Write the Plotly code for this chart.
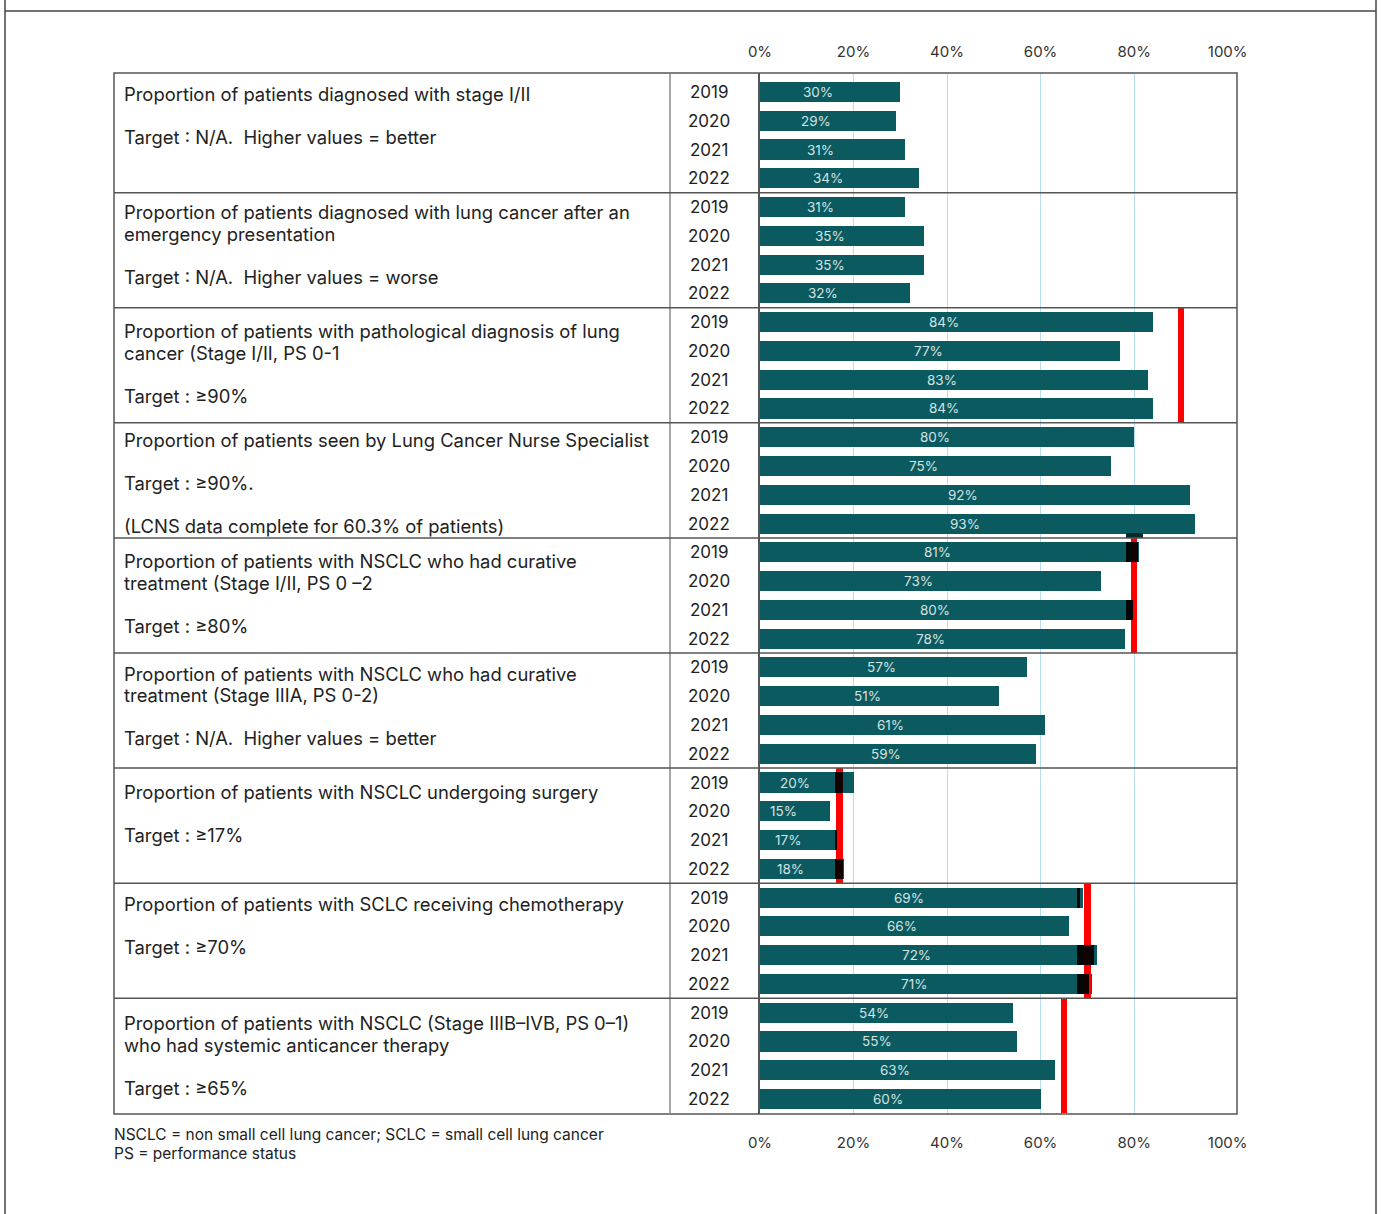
import plotly.graph_objects as go

# ---------------- data ----------------
years = ["2019", "2020", "2021", "2022"]

indicator_lines = [
    ["Proportion of patients diagnosed with stage I/II", "", "Target : N/A.  Higher values = better"],
    ["Proportion of patients diagnosed with lung cancer after an", "emergency presentation", "",
     "Target : N/A.  Higher values = worse"],
    ["Proportion of patients with pathological diagnosis of lung", "cancer (Stage I/II, PS 0-1", "",
     "Target : \u226590%"],
    ["Proportion of patients seen by Lung Cancer Nurse Specialist", "", "Target : \u226590%.", "",
     "(LCNS data complete for 60.3% of patients)"],
    ["Proportion of patients with NSCLC who had curative", "treatment (Stage I/II, PS 0 \u20132", "",
     "Target : \u226580%"],
    ["Proportion of patients with NSCLC who had curative", "treatment (Stage IIIA, PS 0-2)", "",
     "Target : N/A.  Higher values = better"],
    ["Proportion of patients with NSCLC undergoing surgery", "", "Target : \u226517%"],
    ["Proportion of patients with SCLC receiving chemotherapy", "", "Target : \u226570%"],
    ["Proportion of patients with NSCLC (Stage IIIB\u2013IVB, PS 0\u20131)", "who had systemic anticancer therapy", "",
     "Target : \u226565%"],
]

values = [
    [30, 29, 31, 34],
    [31, 35, 35, 32],
    [84, 77, 83, 84],
    [80, 75, 92, 93],
    [81, 73, 80, 78],
    [57, 51, 61, 59],
    [20, 15, 17, 18],
    [69, 66, 72, 71],
    [54, 55, 63, 60],
]

# target lines drawn (None = no line)
targets = [None, None, 90, None, 80, None, 17, 70, 65]

# dark overlap marks: (row index, start %, end %)
mark_rows = [16, 18, 24, 26, 27, 28, 30, 31]
mark_start = [78.3, 78.3, 16.1, 16.1, 16.1, 67.8, 67.8, 67.8]
mark_end = [80.8, 79.8, 17.8, 16.5, 17.8, 68.4, 71.4, 70.4]

tick_vals = [0, 20, 40, 60, 80, 100]
tick_text = ["0%", "20%", "40%", "60%", "80%", "100%"]
grid_vals = [20, 40, 60, 80]

footnote = ["NSCLC = non small cell lung cancer; SCLC = small cell lung cancer",
            "PS = performance status"]

# ---------------- layout geometry ----------------
W, H = 1381, 1214
PL, PR, PT, PB = 760, 1237, 73, 1114
ROW0, ROWSTEP = 92.0, 28.771
X_MAX = 102.0
Y_TOP = (PT - ROW0) / ROWSTEP
Y_BOT = (PB - ROW0) / ROWSTEP


def xp(px):
    return (px - PL) / (PR - PL)


def yp(py):
    return (PB - py) / (PB - PT)


def row_px(r):
    return ROW0 + ROWSTEP * r


FONT = "Inter, Noto Sans, sans-serif"
TEAL = "#0a5a60"

n_groups = len(values)
rows, vals, ylabels = [], [], []
for g in range(n_groups):
    for i, v in enumerate(values[g]):
        rows.append(g * 4 + i)
        vals.append(v)
        ylabels.append(years[i])

fig = go.Figure()

# main bars
fig.add_trace(go.Bar(
    orientation="h", y=rows, x=vals, width=0.7,
    marker=dict(color=TEAL, line=dict(width=0)),
    hoverinfo="x+y", showlegend=False,
))

# target lines as thin bars spanning a group
t_y, t_base, t_len = [], [], []
for g, t in enumerate(targets):
    if t is not None:
        t_y.append(g * 4 + 1.5)
        t_base.append(t - 0.7)
        t_len.append(1.4)
fig.add_trace(go.Bar(
    orientation="h", y=t_y, x=t_len, base=t_base, width=4,
    marker=dict(color="#ff0000", line=dict(width=0)),
    hoverinfo="skip", showlegend=False,
))

# dark overlap marks
fig.add_trace(go.Bar(
    orientation="h", y=mark_rows, x=[e - s for s, e in zip(mark_start, mark_end)], base=mark_start,
    width=0.7, marker=dict(color="#000000", line=dict(width=0)), opacity=0.92,
    hoverinfo="skip", showlegend=False,
))
fig.add_trace(go.Bar(
    orientation="h", y=[15.42], x=[3.6], base=[78.3], width=0.17,
    marker=dict(color="#062a2c", line=dict(width=0)),
    hoverinfo="skip", showlegend=False,
))

# invisible trace for top axis
fig.add_trace(go.Scatter(x=[0, 100], y=[0, 0], xaxis="x2", mode="markers",
                         marker=dict(opacity=0), hoverinfo="skip", showlegend=False))

annotations = []
# bar value labels
for r, v in zip(rows, vals):
    annotations.append(dict(
        x=v / 2, y=r, xref="x", yref="y", text=f"{v}%", showarrow=False,
        xshift=-12, font=dict(family=FONT, size=13.5, color="#d6e3e3"),
    ))
# year labels
for r, yl in zip(rows, ylabels):
    annotations.append(dict(
        x=xp(709), y=yp(row_px(r)), xref="paper", yref="paper", text=yl, showarrow=False,
        xanchor="center", yanchor="middle", font=dict(family=FONT, size=17, color="#222222"),
    ))
# indicator texts
group_text_start = [94, 212, 331, 440, 561, 674, 792, 904, 1023]
LINE_STEP = 21.5
for g, lines in enumerate(indicator_lines):
    for i, ln in enumerate(lines):
        if not ln:
            continue
        annotations.append(dict(
            x=xp(122), y=yp(group_text_start[g] + i * LINE_STEP), xref="paper", yref="paper",
            text=ln, showarrow=False, xanchor="left", yanchor="middle",
            font=dict(family=FONT, size=18.4, color="#222222"),
        ))
# footnote
for i, ln in enumerate(footnote):
    annotations.append(dict(
        x=xp(112), y=yp(1134 + i * 19), xref="paper", yref="paper", text=ln, showarrow=False,
        xanchor="left", yanchor="middle", font=dict(family=FONT, size=15.5, color="#222222"),
    ))

shapes = []
LINE_C = "#555555"
# outer frame
shapes.append(dict(type="line", xref="paper", yref="paper", x0=xp(5), x1=xp(5), y0=yp(0), y1=yp(H),
                   line=dict(color="#444444", width=1.5)))
shapes.append(dict(type="line", xref="paper", yref="paper", x0=xp(1376), x1=xp(1376), y0=yp(0), y1=yp(H),
                   line=dict(color="#444444", width=1.5)))
shapes.append(dict(type="line", xref="paper", yref="paper", x0=xp(5), x1=xp(1376), y0=yp(11), y1=yp(11),
                   line=dict(color="#444444", width=1.5)))
# table box
shapes.append(dict(type="rect", xref="paper", yref="paper", x0=xp(114), x1=xp(1237), y0=yp(PT), y1=yp(PB),
                   line=dict(color=LINE_C, width=1.5), layer="above"))
# column divider
shapes.append(dict(type="line", xref="paper", yref="paper", x0=xp(670), x1=xp(670), y0=yp(PT), y1=yp(PB),
                   line=dict(color="#8a8a8a", width=1.5)))
# group dividers
for g in range(1, n_groups):
    yy = yp(row_px(g * 4 - 0.5))
    shapes.append(dict(type="line", xref="paper", yref="paper", x0=xp(114), x1=xp(1237), y0=yy, y1=yy,
                       line=dict(color=LINE_C, width=1.5), layer="above"))

tickfont = dict(family=FONT, size=15, color="#333333")
fig.update_layout(
    width=W, height=H,
    margin=dict(l=PL, r=W - PR, t=PT, b=H - PB, pad=0),
    paper_bgcolor="white", plot_bgcolor="white",
    barmode="overlay", bargap=0,
    xaxis=dict(range=[0, X_MAX], tickvals=tick_vals, ticktext=tick_text, showgrid=False,
               zeroline=False, showline=False, ticks="", tickfont=tickfont, ticklabelstandoff=18,
               minor=dict(tickvals=grid_vals, showgrid=True, gridcolor="#b7dff2", gridwidth=1, ticks=""),
               fixedrange=True),
    xaxis2=dict(overlaying="x", side="top", matches="x", range=[0, X_MAX], tickvals=tick_vals,
                ticktext=tick_text, showgrid=False, zeroline=False, showline=False, ticks="",
                tickfont=tickfont, ticklabelstandoff=12),
    yaxis=dict(range=[Y_BOT, Y_TOP], showticklabels=False, showgrid=False, zeroline=False,
               showline=True, linecolor="#555555", linewidth=1.5, ticks="", fixedrange=True),
    annotations=annotations, shapes=shapes,
)

fig.write_html("out.html")
